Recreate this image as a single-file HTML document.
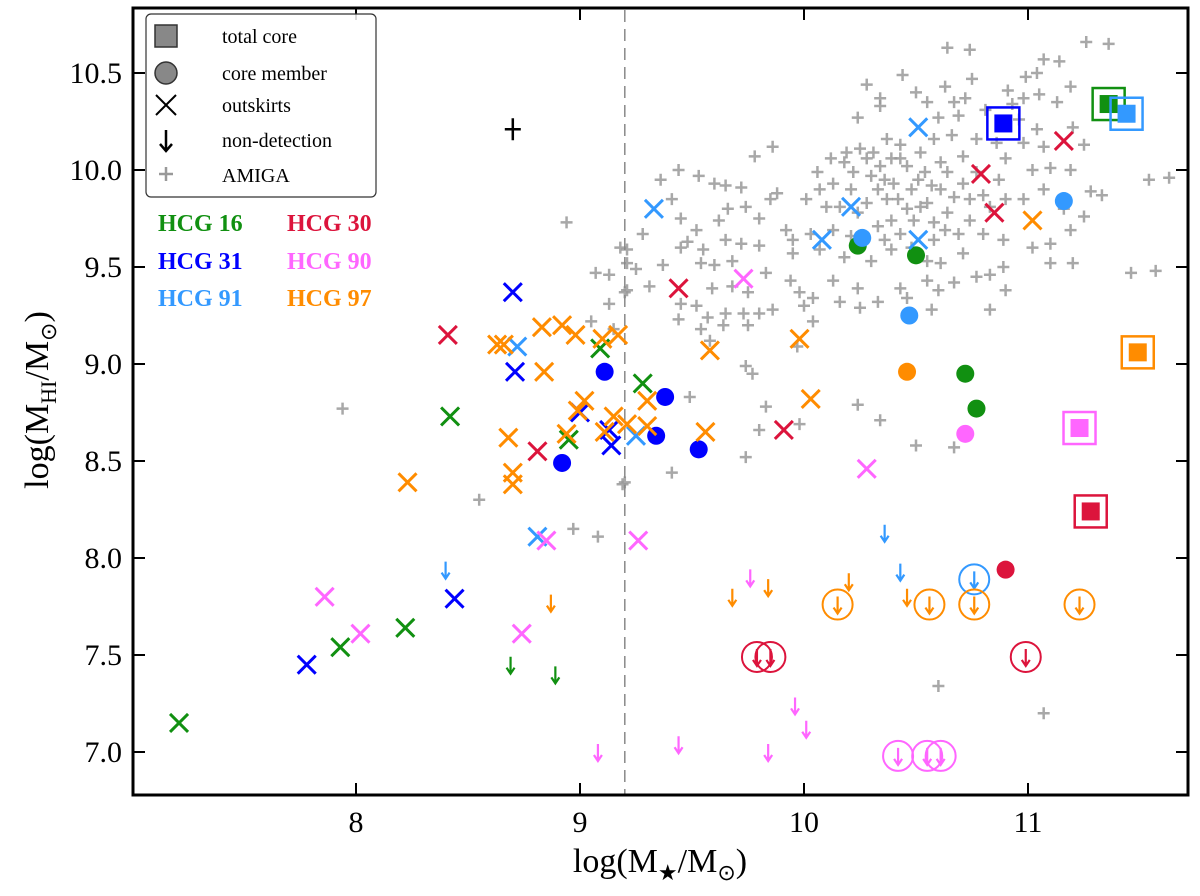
<!DOCTYPE html>
<html><head><meta charset="utf-8"><style>
html,body{margin:0;padding:0;background:#fff}
svg{display:block;font-family:"Liberation Serif",serif}
</style></head><body>
<svg id="chart" width="1200" height="896" viewBox="0 0 1200 896" xmlns="http://www.w3.org/2000/svg">
<g id="amiga"></g>
<line id="dash" y1="10" y2="794" stroke="#888" stroke-width="1.5" stroke-dasharray="12,7"/>
<g id="marks"></g>
<rect x="133" y="8" width="1055" height="787" fill="none" stroke="#000" stroke-width="3"/>
<g id="ticks"></g>
<g>
<rect x="146" y="14" width="230" height="183" rx="5" fill="#fff" fill-opacity="0.85" stroke="#333" stroke-width="1.2"/>
<rect x="155" y="25" width="22" height="22" fill="#888" stroke="#333" stroke-width="1.5"/>
<text x="222" y="43" font-size="20">total core</text>
<circle cx="166" cy="73" r="11" fill="#888" stroke="#333" stroke-width="1.5"/>
<text x="222" y="80" font-size="20">core member</text>
<path d="M156 95 L176 115 M176 95 L156 115" stroke="#000" stroke-width="2"/>
<text x="222" y="112" font-size="20">outskirts</text>
<path d="M166 130 L166 150 M160 144 L166 151 L172 144" stroke="#000" stroke-width="2.5" fill="none"/>
<text x="222" y="147" font-size="20">non-detection</text>
<path d="M159 174 L173 174 M166 167 L166 181" stroke="#999" stroke-width="2.5"/>
<text x="222" y="182" font-size="20">AMIGA</text>
</g>
<g font-size="24" font-weight="bold">
<text x="158" y="231" fill="#119011">HCG 16</text>
<text x="287" y="231" fill="#dc143c">HCG 30</text>
<text x="158" y="269" fill="#0000ff">HCG 31</text>
<text x="287" y="269" fill="#ff66ff">HCG 90</text>
<text x="158" y="306" fill="#3399ff">HCG 91</text>
<text x="287" y="306" fill="#ff8c00">HCG 97</text>
</g>
<text x="660" y="872" font-size="34" text-anchor="middle">log(M<tspan font-size="22" dy="8">★</tspan><tspan dy="-8">/M</tspan><tspan font-size="22" dy="8">⊙</tspan><tspan dy="-8">)</tspan></text>
<text transform="translate(48,400) rotate(-90)" font-size="34" text-anchor="middle">log(M<tspan font-size="22" dy="8">HI</tspan><tspan dy="-8">/M</tspan><tspan font-size="22" dy="8">⊙</tspan><tspan dy="-8">)</tspan></text>
</svg>
<script>
const xTicks = [8, 9, 10, 11];
const yTicks = [7.0, 7.5, 8.0, 8.5, 9.0, 9.5, 10.0, 10.5];
const threshold = 9.2;
const errorBar = [8.70, 10.21];

const hcg16Cross = [[7.21,7.15],[7.93,7.54],[8.22,7.64],[8.42,8.73],[8.95,8.61],[9.09,9.08],[9.28,8.90]];
const hcg16Core = [[10.24,9.61],[10.50,9.56],[10.72,8.95],[10.77,8.77]];
const hcg16Total = [[11.36,10.34]];
const hcg16Upper = [[8.69,7.45],[8.89,7.40]];

const hcg31Cross = [[7.78,7.45],[8.44,7.79],[8.70,9.37],[8.71,8.96],[9.00,8.75],[9.13,8.66],[9.14,8.58]];
const hcg31Core = [[9.11,8.96],[9.38,8.83],[9.34,8.63],[9.53,8.56],[8.92,8.49]];
const hcg31Total = [[10.89,10.24]];

const hcg91Cross = [[8.72,9.09],[9.33,9.80],[10.08,9.64],[10.21,9.81],[10.51,10.22],[10.51,9.64],[9.25,8.63],[8.81,8.11]];
const hcg91Core = [[10.26,9.65],[10.47,9.25],[11.16,9.84]];
const hcg91Total = [[11.44,10.29]];
const hcg91CoreUpper = [[10.76,7.89]];
const hcg91Upper = [[8.40,7.94],[10.36,8.13],[10.43,7.93]];

const hcg30Cross = [[8.41,9.15],[8.81,8.55],[9.44,9.39],[9.91,8.66],[10.79,9.98],[10.85,9.78],[11.16,10.15]];
const hcg30Core = [[10.90,7.94]];
const hcg30Total = [[11.28,8.24]];
const hcg30CoreUpper = [[9.79,7.49],[9.85,7.49],[10.99,7.49]];

const hcg90Cross = [[7.86,7.80],[8.02,7.61],[8.74,7.61],[8.85,8.09],[9.26,8.09],[9.73,9.44],[10.28,8.46]];
const hcg90Core = [[10.72,8.64]];
const hcg90Total = [[11.23,8.67]];
const hcg90Upper = [[9.08,7.00],[9.44,7.04],[9.76,7.90],[9.84,7.00],[9.96,7.24],[10.01,7.12]];
const hcg90CoreUpper = [[10.42,6.98],[10.55,6.98],[10.61,6.98]];

const hcg97Cross = [[8.23,8.39],[8.63,9.10],[8.66,9.10],[8.68,8.62],[8.70,8.44],[8.70,8.38],[8.83,9.19],[8.84,8.96],[8.92,9.20],[8.98,9.15],[8.94,8.64],[8.99,8.76],[9.02,8.81],[9.10,9.13],[9.11,8.65],[9.15,8.73],[9.17,9.15],[9.21,8.69],[9.30,8.81],[9.30,8.68],[9.58,9.07],[9.56,8.65],[9.98,9.13],[10.03,8.82],[11.02,9.74]];
const hcg97Core = [[10.46,8.96]];
const hcg97Total = [[11.49,9.06]];
const hcg97CoreUpper = [[10.15,7.76],[10.56,7.76],[10.76,7.76],[11.23,7.76]];
const hcg97Upper = [[8.87,7.77],[9.68,7.80],[9.84,7.85],[10.20,7.88],[10.46,7.80]];

const amigaX = [10.64,10.74,11.26,11.36,11.07,11.14,10.44,10.75,10.99,11.04,10.28,10.63,10.91,11.19,11.05,10.34,10.50,10.55,10.67,10.72,10.81,10.93,10.98,11.13,10.24,10.34,10.60,10.69,10.96,11.04,11.20,11.25,10.37,10.43,10.58,10.66,10.77,10.86,10.98,11.07,10.19,10.28,10.34,10.43,10.52,10.61,10.71,10.90,11.02,11.10,11.19,11.54,10.06,10.13,10.21,10.30,10.40,10.51,10.61,10.71,10.80,10.87,10.98,11.07,11.28,11.33,10.01,10.10,10.28,10.37,10.46,10.55,10.64,10.74,10.83,10.90,11.16,11.25,10.03,10.13,10.33,10.43,10.58,10.69,10.80,10.89,11.02,11.10,11.19,10.07,10.18,10.30,10.39,10.61,10.77,10.83,10.89,11.10,11.20,11.46,10.13,10.24,10.43,10.55,10.60,10.67,10.90,10.04,10.16,10.33,10.46,10.25,10.83,10.57,10.04,
8.94,9.86,9.78,9.44,9.36,9.53,9.60,9.65,9.72,9.41,9.45,9.28,9.52,9.62,9.66,9.74,9.80,9.85,9.45,9.48,9.55,9.65,9.72,9.80,9.18,9.21,9.25,9.13,9.37,9.54,9.60,9.68,9.31,9.59,9.68,9.75,9.13,9.20,9.45,9.52,9.44,9.57,9.65,9.73,9.80,9.86,9.54,9.64,9.75,9.05,9.15,9.58,9.74,9.77,9.97,9.49,9.83,9.80,9.98,9.74,9.41,9.20,9.08,9.88,9.92,9.95,9.83,9.94,9.98,10.00,9.95,
8.55,7.94,9.21,9.07,9.21,9.19,8.97,10.67,10.50,10.34,10.24,10.60,11.07,11.57,11.63,
10.18,10.22,10.25,10.31,10.36,10.39,10.46,10.48,10.54,10.57,10.64,10.67,10.33,10.42,10.49,10.52,10.58,10.63,10.16,10.24,10.07,10.12,10.21,10.36,10.48,10.55,10.71,10.77,10.74,10.39];
const amigaY = [10.63,10.62,10.66,10.65,10.57,10.56,10.49,10.47,10.48,10.50,10.44,10.43,10.41,10.43,10.39,10.37,10.40,10.35,10.35,10.37,10.31,10.34,10.37,10.35,10.27,10.33,10.27,10.28,10.26,10.21,10.22,10.13,10.16,10.13,10.16,10.18,10.16,10.14,10.14,10.12,10.09,10.06,10.02,10.06,10.09,10.04,10.07,10.06,10.00,10.01,10.00,9.95,9.99,9.93,9.90,9.97,9.93,9.95,9.90,9.93,9.87,9.95,9.85,9.90,9.89,9.87,9.85,9.81,9.83,9.85,9.80,9.83,9.78,9.74,9.81,9.85,9.80,9.76,9.67,9.69,9.71,9.67,9.64,9.67,9.67,9.64,9.60,9.62,9.69,9.59,9.55,9.53,9.59,9.52,9.45,9.46,9.50,9.52,9.52,9.47,9.43,9.39,9.39,9.43,9.38,9.42,9.38,9.34,9.32,9.32,9.34,9.29,9.28,9.28,9.22,
9.73,10.12,10.07,10.00,9.95,9.97,9.93,9.92,9.91,9.85,9.75,9.67,9.69,9.74,9.80,9.81,9.75,9.85,9.60,9.63,9.59,9.64,9.62,9.61,9.60,9.52,9.49,9.46,9.51,9.52,9.51,9.53,9.40,9.39,9.40,9.37,9.31,9.37,9.31,9.30,9.23,9.24,9.26,9.26,9.26,9.28,9.18,9.20,9.20,9.22,9.18,9.12,8.99,8.95,9.09,8.83,8.78,8.66,8.69,8.52,8.44,8.39,8.11,9.88,9.69,9.57,9.47,9.43,9.37,9.30,9.64,
8.30,8.77,9.59,9.47,9.38,8.38,8.15,8.57,8.58,8.71,8.79,7.34,7.20,9.48,9.96,
10.04,9.99,10.11,10.09,9.95,10.06,10.02,9.90,9.99,9.92,9.99,9.86,9.90,9.85,9.74,9.81,9.73,9.69,9.81,9.78,9.90,10.06,9.66,9.64,9.60,9.53,9.57,9.99,9.85,9.74];

const NS = 'http://www.w3.org/2000/svg';
function X(v){ return 356 + (v - 8) * 224; }
function Y(v){ return 73 + (10.5 - v) * 194; }
function mk(tag, attrs, parent){
  const e = document.createElementNS(NS, tag);
  for (const k in attrs) e.setAttribute(k, attrs[k]);
  parent.appendChild(e);
  return e;
}
const marks = document.getElementById('marks');
const amiga = document.getElementById('amiga');
const ticks = document.getElementById('ticks');

document.getElementById('dash').setAttribute('x1', X(threshold));
document.getElementById('dash').setAttribute('x2', X(threshold));

for (let i = 0; i < amigaX.length; i++) {
  const cx = X(amigaX[i]), cy = Y(amigaY[i]);
  const p = mk('path', {d:`M${cx-6} ${cy} L${cx+6} ${cy} M${cx} ${cy-6} L${cx} ${cy+6}`, stroke:'#999', 'stroke-width':2.5, opacity:0.85}, amiga);
  
  
}

function crosses(arr, color, name){
  arr.forEach(d => {
    const cx = X(d[0]), cy = Y(d[1]);
    const p = mk('path', {d:`M${cx-9} ${cy-9} L${cx+9} ${cy+9} M${cx+9} ${cy-9} L${cx-9} ${cy+9}`, stroke:color, 'stroke-width':3}, marks);
    
    
  });
}
function cores(arr, color, name){
  arr.forEach(d => {
    const c = mk('circle', {cx:X(d[0]), cy:Y(d[1]), r:9, fill:color}, marks);
    
    
  });
}
function totals(arr, color, name){
  arr.forEach(d => {
    const cx = X(d[0]), cy = Y(d[1]);
    const o = mk('rect', {x:cx-16, y:cy-16, width:32, height:32, fill:'none', stroke:color, 'stroke-width':2.5}, marks);
    
    
    const r = mk('rect', {x:cx-9, y:cy-9, width:18, height:18, fill:color}, marks);
    
    
  });
}
function arrow(cx, cy, color, name){
  const p = mk('path', {d:`M${cx} ${cy-8} L${cx} ${cy+8} M${cx-4} ${cy+3} L${cx} ${cy+9} L${cx+4} ${cy+3}`, stroke:color, 'stroke-width':2.2, fill:'none'}, marks);
  
  
}
function uppers(arr, color, name){
  arr.forEach(d => arrow(X(d[0]), Y(d[1]), color, name));
}
function coreUppers(arr, color, name){
  arr.forEach(d => {
    const cx = X(d[0]), cy = Y(d[1]);
    const c = mk('circle', {cx:cx, cy:cy, r:15, fill:'none', stroke:color, 'stroke-width':2}, marks);
    
    
    arrow(cx, cy, color, name);
  });
}

const G='#119011', B='#0000ff', LB='#3399ff', R='#dc143c', P='#ff66ff', O='#ff8c00';
crosses(hcg16Cross, G, 'hcg16-outskirts'); cores(hcg16Core, G, 'hcg16-core'); uppers(hcg16Upper, G, 'hcg16-nondetection');
crosses(hcg31Cross, B, 'hcg31-outskirts'); cores(hcg31Core, B, 'hcg31-core');
crosses(hcg91Cross, LB, 'hcg91-outskirts'); cores(hcg91Core, LB, 'hcg91-core'); uppers(hcg91Upper, LB, 'hcg91-nondetection'); coreUppers(hcg91CoreUpper, LB, 'hcg91-core-nondetection');
crosses(hcg30Cross, R, 'hcg30-outskirts'); cores(hcg30Core, R, 'hcg30-core'); coreUppers(hcg30CoreUpper, R, 'hcg30-core-nondetection');
crosses(hcg90Cross, P, 'hcg90-outskirts'); cores(hcg90Core, P, 'hcg90-core'); uppers(hcg90Upper, P, 'hcg90-nondetection'); coreUppers(hcg90CoreUpper, P, 'hcg90-core-nondetection');
crosses(hcg97Cross, O, 'hcg97-outskirts'); cores(hcg97Core, O, 'hcg97-core'); uppers(hcg97Upper, O, 'hcg97-nondetection'); coreUppers(hcg97CoreUpper, O, 'hcg97-core-nondetection');
totals(hcg16Total, G, 'hcg16-total-core'); totals(hcg31Total, B, 'hcg31-total-core');
totals(hcg91Total, LB, 'hcg91-total-core'); totals(hcg30Total, R, 'hcg30-total-core');
totals(hcg90Total, P, 'hcg90-total-core'); totals(hcg97Total, O, 'hcg97-total-core');

{
  const ex = X(errorBar[0]), ey = Y(errorBar[1]);
  const e = mk('path', {d:`M${ex-8} ${ey} L${ex+8} ${ey} M${ex} ${ey-11} L${ex} ${ey+11}`, stroke:'#000', 'stroke-width':2.5}, marks);
  
  
}

xTicks.forEach(v => {
  const x = X(v);
  const t = mk('path', {d:`M${x} 795 L${x} 783 M${x} 8 L${x} 20`, stroke:'#000', 'stroke-width':2}, ticks);
  
  
  const l = mk('text', {x:x, y:832, 'font-size':30, 'text-anchor':'middle'}, ticks);
  l.textContent = v;
  
  
});
yTicks.forEach(v => {
  const y = Y(v);
  const t = mk('path', {d:`M133 ${y} L145 ${y} M1188 ${y} L1176 ${y}`, stroke:'#000', 'stroke-width':2}, ticks);
  
  
  const l = mk('text', {x:122, y:y+10, 'font-size':30, 'text-anchor':'end'}, ticks);
  l.textContent = v.toFixed(1);
  
  
});
</script>
</body></html>
